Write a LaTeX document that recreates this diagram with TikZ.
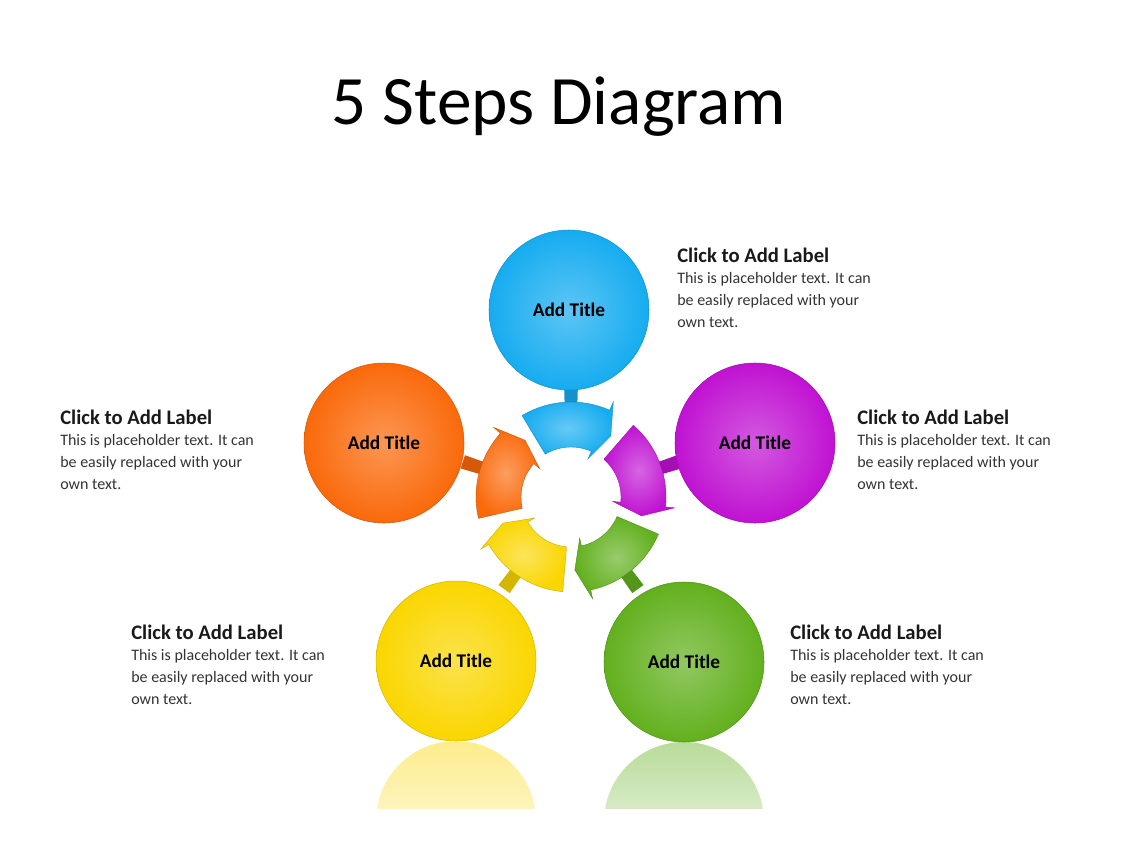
\documentclass[tikz,border=0pt]{standalone}
\usepackage{fontspec}
\setmainfont{Carlito}
\usetikzlibrary{fadings}
\definecolor{cblue}{RGB}{22,172,240}
\definecolor{cmag}{RGB}{192,18,210}
\definecolor{corange}{RGB}{250,105,10}
\definecolor{cyellow}{RGB}{250,214,0}
\definecolor{cgreen}{RGB}{98,176,30}
\tikzset{
  ball/.style={circle,minimum size=120pt,inner sep=0pt,inner color=#1!70!white,outer color=#1,draw=#1!85!black,line width=0.4pt,font=\bfseries\fontsize{14.5}{16}\selectfont},
  lbl/.style={anchor=north west,align=left,inner sep=0pt,font=\fontsize{12}{16.5}\selectfont,text=black!80},
}
\begin{document}
\begin{tikzpicture}[x=0.75pt,y=-0.75pt]
\useasboundingbox (0,0) rectangle (1128,846);
\node (title) at (559,107) {\fontsize{52}{56}\selectfont 5 Steps Diagram};
% ring segments
\begin{scope}[shift={(571,497)},y=0.75pt]
\foreach \c/\col in {90/cblue,18/cmag,-54/cgreen,-126/cyellow,162/corange}{
  \fill[\col!85!black] (\c:90) -- (\c+4:90) -- (\c+3.5:114) -- (\c-3.5:114) -- (\c-4:90) -- cycle;
  \shade[inner color=\col!65!white,outer color=\col,draw=\col!80!black,line width=0.3pt]
   (\c+31:50) -- (\c+31:95) arc[start angle=\c+31,end angle=\c-24,radius=95]
   -- (\c-24:104) -- (\c-33:73) -- (\c-24:42) -- (\c-24:50)
   arc[start angle=\c-24,end angle=\c+31,radius=50] -- cycle;
}
\end{scope}
% reflections
\begin{scope}
\clip (370,742) rectangle (545,808);
\fill[cyellow,opacity=0.45,path fading=south] (456,821) circle[radius=80];
\end{scope}
\begin{scope}
\clip (598,742) rectangle (772,808);
\fill[cgreen,opacity=0.45,path fading=south] (684,822) circle[radius=80];
\end{scope}
% circles
\node[ball=cblue] (b) at (569,310) {Add Title};
\node[ball=cmag] (m) at (755,443) {Add Title};
\node[ball=cgreen] (g) at (684,662) {Add Title};
\node[ball=cyellow] (y) at (456,661) {Add Title};
\node[ball=corange] (o) at (384,443) {Add Title};
% labels
\foreach \n/\x/\y in {lb/677/248,lm/857/410,lo/60/410,ly/131/625,lg/790/625}{
  \node[lbl] (\n) at (\x,\y) {{\bfseries\fontsize{15.5}{16.5}\selectfont\color{black!90}Click to Add Label}\\[-1pt]This is placeholder text. It can\\be easily replaced with your\\own text.};
}
\end{tikzpicture}
\end{document}
